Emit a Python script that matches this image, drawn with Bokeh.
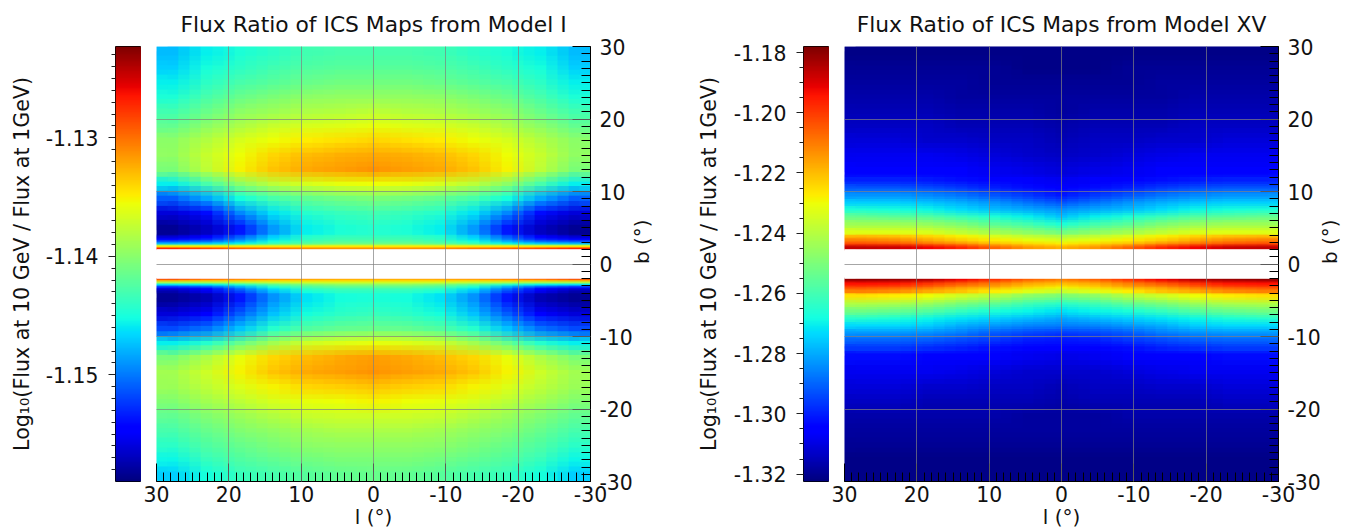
import numpy as np
from bokeh.embed import file_html
from bokeh.resources import INLINE
from bokeh.layouts import row
from bokeh.plotting import figure
from bokeh.models import LinearColorMapper, Range1d, FixedTicker, PrintfTickFormatter

titles = ["Flux Ratio of ICS Maps from Model I", "Flux Ratio of ICS Maps from Model XV"]
y_label = "Log\u2081\u2080(Flux at 10 GeV / Flux at 1GeV)"
x_label = "l (\u00b0)"
b_label = "b (\u00b0)"
lon_ticks = [30, 20, 10, 0, -10, -20, -30]
lat_ticks = [30, 20, 10, 0, -10, -20, -30]
lon_grid = [20, 10, 0, -10, -20]
lat_grid = [20, 10, 0, -10, -20]
gap_b = 2.05

cbar1_range = (-1.1590, -1.1223)
cbar1_ticks = [-1.13, -1.14, -1.15]
cbar1_minor = [-1.123, -1.124, -1.125, -1.126, -1.127, -1.128, -1.129, -1.131, -1.132, -1.133, -1.134, -1.135,
               -1.136, -1.137, -1.138, -1.139, -1.141, -1.142, -1.143, -1.144, -1.145, -1.146, -1.147, -1.148,
               -1.149, -1.151, -1.152, -1.153, -1.154, -1.155, -1.156, -1.157, -1.158]
cbar2_range = (-1.32246, -1.1780)
cbar2_ticks = [-1.18, -1.20, -1.22, -1.24, -1.26, -1.28, -1.30, -1.32]
cbar2_minor = [-1.185, -1.19, -1.195, -1.205, -1.21, -1.215, -1.225, -1.23, -1.235, -1.245, -1.25, -1.255,
               -1.265, -1.27, -1.275, -1.285, -1.29, -1.295, -1.305, -1.31, -1.315]

# Readings from the maps, as percent of each colour bar's range. Each row goes from |l| = 30 to l = 0;
# the maps read the same on both sides of l = 0. Rows run outward from the gap at b = 0.
# (band limits in |b|, rows)
m1_north = [
    ((2, 4), [
        [86, 83, 80, 78, 76, 75, 75],
        [66, 66, 66, 66, 66, 66, 66],
        [48, 48, 50, 52, 54, 55, 55],
        [30, 32, 36, 42, 46, 48, 48],
        [20, 23, 30, 38, 43, 45, 45],
        [12, 16, 25, 35, 41, 43, 43],
        [8, 12, 22, 33, 40, 42, 42],
        [5, 10, 20, 32, 39, 41, 41]]),
    ((4, 30), [
        [2, 6, 15, 28, 36, 39, 40],
        [8, 14, 26, 35, 40, 42, 43],
        [22, 29, 38, 44, 47, 49, 50],
        [36, 44, 52, 58, 61, 63, 64],
        [50, 58, 65, 70, 73, 74, 75],
        [53, 59, 64, 68, 71, 72, 73],
        [52, 57, 61, 64, 66, 67, 68],
        [47, 52, 56, 59, 61, 62, 63],
        [43, 48, 52, 54, 56, 57, 58],
        [39, 44, 48, 50, 52, 53, 53],
        [36, 41, 44, 46, 48, 49, 49],
        [33, 38, 41, 43, 45, 46, 46],
        [31, 36, 39, 41, 43, 44, 44]]),
]
m1_south = [
    ((2, 4), [
        [90, 85, 82, 79, 77, 76, 76],
        [72, 70, 69, 68, 68, 68, 68],
        [55, 55, 56, 58, 60, 60, 60],
        [35, 36, 40, 46, 50, 52, 52],
        [18, 22, 30, 40, 45, 47, 47],
        [10, 14, 25, 36, 42, 44, 44],
        [6, 11, 22, 33, 40, 42, 42],
        [4, 9, 19, 31, 38, 41, 41]]),
    ((4, 30), [
        [2, 5, 15, 27, 35, 38, 39],
        [8, 12, 22, 32, 38, 41, 42],
        [20, 24, 32, 40, 45, 47, 48],
        [36, 40, 48, 55, 60, 62, 63],
        [50, 56, 63, 68, 71, 73, 74],
        [55, 60, 65, 70, 73, 74, 75],
        [54, 58, 62, 65, 68, 69, 70],
        [51, 55, 58, 61, 63, 64, 65],
        [47, 51, 54, 57, 59, 60, 60],
        [44, 48, 51, 53, 55, 56, 56],
        [41, 45, 48, 50, 52, 53, 53],
        [37, 42, 45, 47, 49, 50, 50],
        [33, 38, 42, 44, 46, 47, 48]]),
]
m15_north = [
    ((2, 4), [
        [94, 93, 90, 86, 80, 75, 72],
        [83, 82, 79, 76, 71, 68, 66],
        [77, 76, 73, 69, 66, 63, 61],
        [71, 70, 68, 65, 61, 58, 56]]),
    ((4, 12), [
        [62, 62, 61, 58, 55, 52, 49],
        [54, 54, 53, 50, 46, 43, 39],
        [47, 46, 45, 42, 39, 36, 32],
        [39, 38, 37, 34, 31, 29, 27],
        [33, 33, 32, 30, 27, 24, 21],
        [27, 27, 26, 24, 21, 18, 15],
        [21, 21, 20, 18, 16, 14, 12],
        [16, 16, 15, 14, 13, 11, 10]]),
    ((12, 30), [
        [13, 13, 12, 12, 10, 9, 8],
        [10, 10, 10, 9, 8, 7, 6],
        [8, 8, 7, 7, 6, 6, 5],
        [6, 6, 6, 5, 5, 5, 4],
        [5, 5, 5, 4, 4, 4, 3],
        [4, 4, 4, 3, 3, 3, 3],
        [3, 3, 3, 3, 2, 2, 2],
        [2, 2, 2, 2, 2, 1, 1],
        [1, 1, 1, 1, 1, 1, 1]]),
]
m15_south = [
    ((2, 4), [
        [98, 97, 95, 90, 85, 80, 77],
        [89, 88, 85, 81, 77, 73, 71],
        [83, 82, 79, 75, 72, 68, 65],
        [77, 76, 73, 70, 66, 62, 59]]),
    ((4, 12), [
        [67, 66, 64, 60, 57, 52, 50],
        [57, 56, 54, 50, 47, 43, 41],
        [49, 48, 46, 42, 39, 37, 35],
        [40, 39, 37, 35, 33, 31, 29],
        [34, 34, 33, 30, 28, 26, 25],
        [28, 28, 27, 25, 22, 20, 19],
        [23, 23, 22, 20, 18, 16, 15],
        [18, 18, 17, 16, 14, 13, 12]]),
    ((12, 30), [
        [14, 14, 13, 12, 11, 10, 9],
        [10, 10, 10, 9, 8, 7, 7],
        [8, 8, 7, 7, 6, 6, 5],
        [6, 6, 5, 5, 5, 5, 4],
        [4, 4, 4, 4, 4, 3, 3],
        [3, 3, 3, 3, 3, 3, 3],
        [2, 2, 2, 2, 2, 2, 2],
        [1, 1, 1, 1, 1, 1, 1],
        [1, 1, 1, 1, 1, 1, 1]]),
]

# matplotlib-style jet colour table
_t = np.linspace(0, 1, 256)
_r = np.interp(_t, [0, 0.35, 0.66, 0.89, 1], [0, 0, 1, 1, 0.5])
_g = np.interp(_t, [0, 0.125, 0.375, 0.64, 0.91, 1], [0, 0, 1, 1, 0, 0])
_b = np.interp(_t, [0, 0.11, 0.34, 0.65, 1], [0.5, 1, 1, 0, 0])
JET = ["#%02x%02x%02x" % (int(r * 255), int(g * 255), int(b * 255)) for r, g, b in zip(_r, _g, _b)]

FONT = "DejaVu Sans"
TOP, FRAME_H, BOTTOM = 46, 435, 46
# Bokeh's svg output draws images without smoothing, so each grid is laid over itself at
# sub-cell offsets with equal weights: the drawn values stay the readings above.
SOFT = [(0, 0), (-1, 0), (1, 0), (0, -1), (0, 1), (-1, -1), (1, 1), (-1, 1), (1, -1)]


def colorbar(vrange, ticks, minor, width_left, standoff):
    low, high = vrange
    p = figure(width=width_left + 26, height=TOP + FRAME_H + BOTTOM, frame_width=26, frame_height=FRAME_H,
               x_range=Range1d(0, 1), y_range=Range1d(low, high), output_backend="svg", toolbar_location=None,
               min_border_left=width_left, min_border_right=0, min_border_top=TOP, min_border_bottom=BOTTOM,
               background_fill_color=None, border_fill_color=None)
    mapper = LinearColorMapper(palette=JET, low=low, high=high)
    grad = np.linspace(low, high, 256).reshape(-1, 1)
    p.image(image=[grad], x=0, y=low, dw=1, dh=high - low, color_mapper=mapper)
    p.xaxis.visible = False
    p.grid.visible = False
    p.outline_line_color = "black"
    p.outline_line_width = 1
    ax = p.yaxis[0]
    ax.ticker = FixedTicker(ticks=ticks, minor_ticks=minor)
    ax.formatter = PrintfTickFormatter(format="%.2f")
    ax.axis_line_color = None
    ax.major_tick_in, ax.major_tick_out = 0, 7
    ax.minor_tick_in, ax.minor_tick_out = 0, 4
    ax.major_tick_line_color = "#222222"
    ax.minor_tick_line_color = "#222222"
    ax.major_label_text_font = FONT
    ax.major_label_text_font_size = "20.4px"
    ax.major_label_text_color = "#111111"
    ax.major_label_standoff = 10
    ax.axis_label = y_label
    ax.axis_label_text_font = FONT
    ax.axis_label_text_font_style = "normal"
    ax.axis_label_text_font_size = "20.6px"
    ax.axis_label_text_color = "#111111"
    ax.axis_label_standoff = standoff
    return p


def draw_half(p, bands, sign, mapper, vrange):
    low, high = vrange
    for (b0, b1), rows in reversed(bands):
        half = np.array(rows, dtype=float)
        full = np.hstack([half, half[:, -2::-1]])
        vals = low + full / 100.0 * (high - low)
        cell_x = 60.0 / vals.shape[1]
        cell_y = (b1 - b0) / vals.shape[0]
        if sign > 0:
            y = b0
        else:
            vals = vals[::-1]
            y = -b1
        for k, (sx, sy) in enumerate(SOFT):
            p.image(image=[vals], x=-30 + sx * cell_x / 3, y=y + sy * cell_y / 3, dw=60, dh=b1 - b0,
                    color_mapper=mapper, global_alpha=1.0 / (k + 1))


def heatmap(title, north, south, vrange, right_w):
    p = figure(width=15 + 434 + right_w, height=TOP + FRAME_H + BOTTOM, frame_width=434, frame_height=FRAME_H,
               x_range=Range1d(30, -30), y_range=Range1d(-30, 30), y_axis_location="right",
               output_backend="svg", toolbar_location=None, title=title,
               min_border_left=15, min_border_right=right_w, min_border_top=TOP, min_border_bottom=BOTTOM,
               background_fill_color=None, border_fill_color=None)
    mapper = LinearColorMapper(palette=JET, low=vrange[0], high=vrange[1])
    draw_half(p, north, 1, mapper, vrange)
    draw_half(p, south, -1, mapper, vrange)
    p.quad(left=[-30], right=[30], bottom=[-gap_b], top=[gap_b], fill_color="white", line_color=None)
    p.outline_line_color = None
    p.title.align = "center"
    p.title.text_font = FONT
    p.title.text_font_style = "normal"
    p.title.text_font_size = "21.8px"
    p.title.text_color = "#111111"
    p.title.standoff = 19
    for g, ticks in ((p.xgrid[0], lon_grid), (p.ygrid[0], lat_grid)):
        g.ticker = FixedTicker(ticks=ticks)
        g.level = "annotation"
        g.grid_line_color = "#808080"
        g.grid_line_alpha = 0.7
        g.grid_line_width = 1
    for ax, ticks, lab in ((p.xaxis[0], lon_ticks, x_label), (p.yaxis[0], lat_ticks, b_label)):
        ax.ticker = FixedTicker(ticks=ticks, minor_ticks=list(range(-30, 31)))
        ax.formatter = PrintfTickFormatter(format="%d")
        ax.major_tick_in, ax.major_tick_out = 18, 0
        ax.minor_tick_in, ax.minor_tick_out = 9, 0
        ax.axis_line_color = "black"
        ax.major_tick_line_color = "black"
        ax.minor_tick_line_color = "black"
        ax.major_label_text_font = FONT
        ax.major_label_text_font_size = "20.4px"
        ax.major_label_text_color = "#111111"
        ax.axis_label = lab
        ax.axis_label_text_font = FONT
        ax.axis_label_text_font_style = "normal"
        ax.axis_label_text_font_size = "20px"
        ax.axis_label_text_color = "#111111"
    p.xaxis[0].major_label_standoff = 4
    p.xaxis[0].axis_label_standoff = 0
    p.yaxis[0].major_label_standoff = 9
    p.yaxis[0].axis_label_standoff = 6
    p.yaxis[0].axis_label_orientation = 1.5707963
    return p


cb1 = colorbar(cbar1_range, cbar1_ticks, cbar1_minor, 115, 9)
h1 = heatmap(titles[0], m1_north, m1_south, cbar1_range, 90)
cb2 = colorbar(cbar2_range, cbar2_ticks, cbar2_minor, 123, 10)
h2 = heatmap(titles[1], m15_north, m15_south, cbar2_range, 76)
page = row(cb1, h1, cb2, h2, spacing=0)
open("out.html", "w").write(file_html(page, INLINE))
